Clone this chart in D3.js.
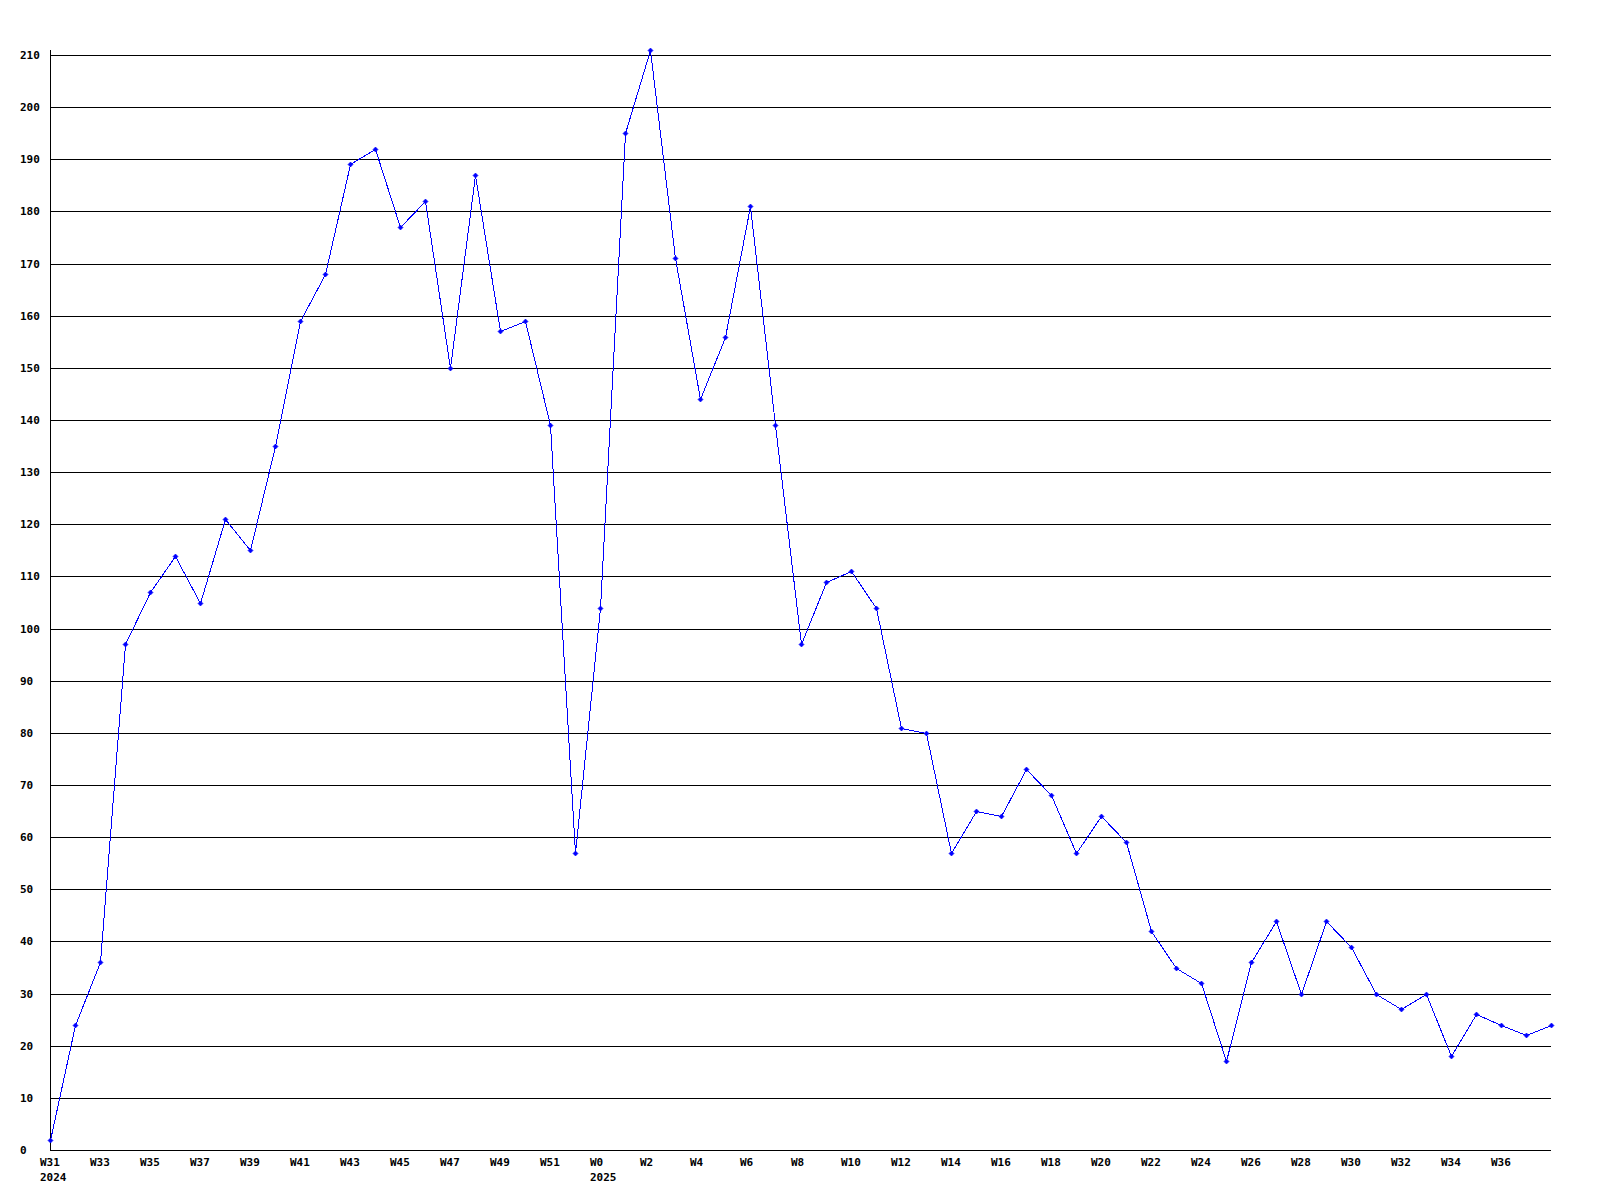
<!DOCTYPE html>
<html>
<head>
<meta charset="utf-8">
<script src="https://cdn.jsdelivr.net/npm/d3@7"></script>
<style>
  body { margin: 0; background: #fff; }
  text { font-family: "DejaVu Sans Mono", monospace; font-weight: bold; font-size: 11px; fill: #000; }
</style>
</head>
<body>
<div id="chart"></div>
<script>
const WIDTH = 1600;
const HEIGHT = 1200;

// weekly values, W31 2024 .. W38 2025
const weeks = ["W31","W32","W33","W34","W35","W36","W37","W38","W39","W40","W41","W42","W43","W44","W45","W46","W47","W48","W49","W50","W51","W52",
  "W0","W1","W2","W3","W4","W5","W6","W7","W8","W9","W10","W11","W12","W13","W14","W15","W16","W17","W18","W19","W20","W21","W22","W23","W24","W25","W26","W27","W28","W29","W30","W31","W32","W33","W34","W35","W36","W37","W38"];
const values = [2,24,36,97,107,114,105,121,115,135,159,168,189,192,177,182,150,187,157,159,139,57,
  104,195,211,171,144,156,181,139,97,109,111,104,81,80,57,65,64,73,68,57,64,59,42,35,32,17,36,44,30,44,39,30,27,30,18,26,24,22,24];
const yearLabels = [{i: 0, text: "2024"}, {i: 22, text: "2025"}];
const yTicks = d3.range(0, 211, 10);

let svg = d3.select("#chart")
    .append("svg")
    .attr("width", WIDTH)
    .attr("height", HEIGHT);

let x = d3.scaleLinear().domain([0, values.length - 1]).range([50, 1551]);
let y = d3.scaleLinear().domain([0, 210]).range([1150, 55]);

// horizontal grid lines
svg.append("g")
    .selectAll("line")
    .data(yTicks)
    .enter()
    .append("line")
    .attr("x1", 50)
    .attr("x2", 1551)
    .attr("y1", d => Math.round(y(d)) + 0.5)
    .attr("y2", d => Math.round(y(d)) + 0.5)
    .style("stroke", "#000")
    .style("shape-rendering", "crispEdges")

// y axis line
svg.append("line")
    .attr("x1", 50.5).attr("x2", 50.5)
    .attr("y1", 50).attr("y2", 1151)
    .style("stroke", "#000")
    .style("shape-rendering", "crispEdges")

// y labels
svg.append("g")
    .selectAll("text")
    .data(yTicks)
    .enter()
    .append("text")
    .attr("x", 20)
    .attr("y", d => Math.round(y(d)) + 4)
    .text(d => d)

// x labels every other week (last one falls off the edge in the original)
svg.append("g")
    .selectAll("text")
    .data(weeks.map((w, i) => ({w, i})).filter(d => d.i % 2 == 0 && d.i < values.length - 1))
    .enter()
    .append("text")
    .attr("x", d => Math.round(x(d.i)) - 10)
    .attr("y", 1166)
    .text(d => d.w)

svg.append("g")
    .selectAll("text")
    .data(yearLabels)
    .enter()
    .append("text")
    .attr("x", d => Math.round(x(d.i)) - 10)
    .attr("y", 1181)
    .text(d => d.text)

// data line
let line = d3.line()
    .x((d, i) => Math.round(x(i)) + 0.5)
    .y(d => Math.round(y(d)) + 0.5)

svg.append("path")
    .datum(values)
    .attr("d", line)
    .style("fill", "none")
    .style("stroke", "#0000ff")
    .style("stroke-width", 1)
    .style("shape-rendering", "crispEdges")

// point markers
svg.append("g")
    .selectAll("path")
    .data(values)
    .enter()
    .append("path")
    .attr("transform", (d, i) => `translate(${Math.round(x(i)) + 0.5},${Math.round(y(d)) + 0.5})`)
    .attr("d", "M-2.5,0L0,-2.5L2.5,0L0,2.5Z")
    .style("fill", "#0000ff")
    .style("stroke", "#0000ff")
    .style("stroke-width", 0.6)
</script>
</body>
</html>
